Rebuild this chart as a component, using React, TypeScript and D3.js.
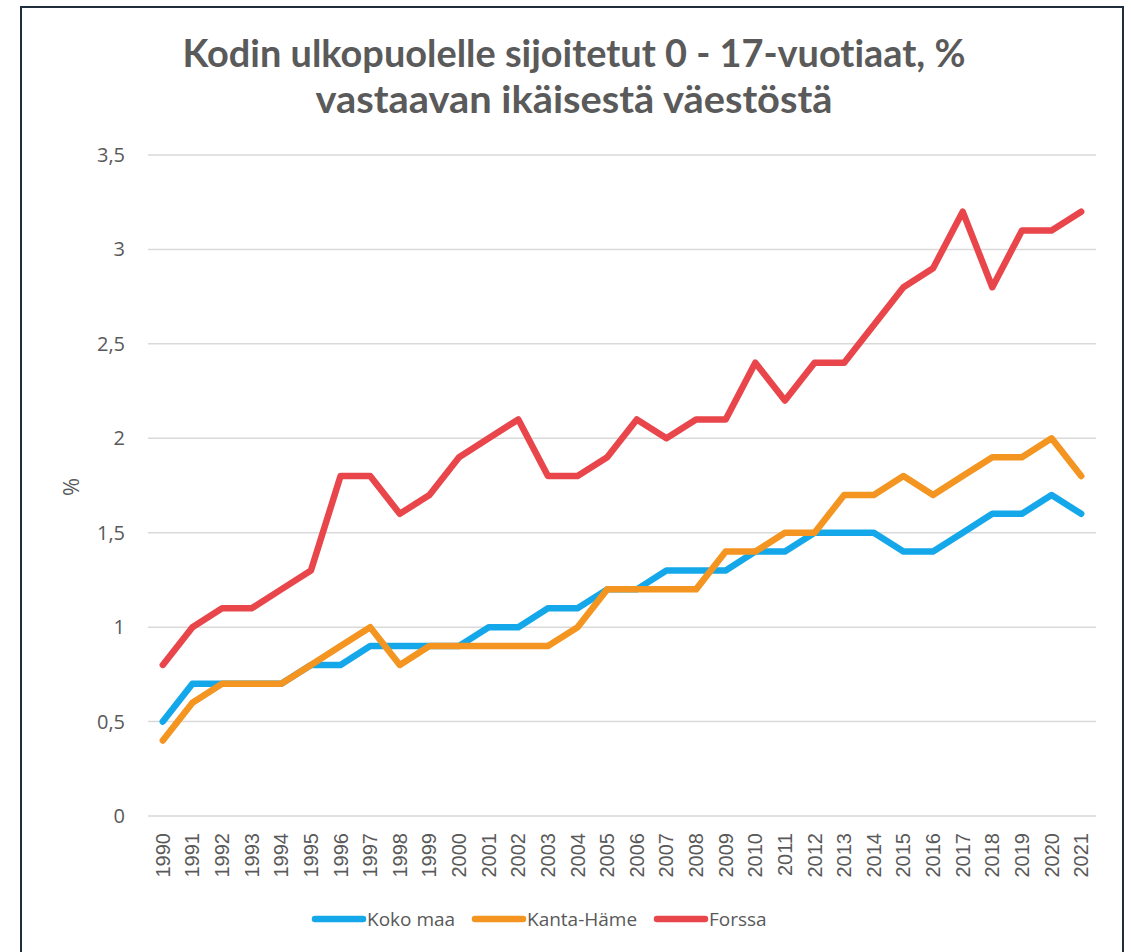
import React from "react";
import * as d3 from "d3";

const years = [
  "1990","1991","1992","1993","1994","1995","1996","1997","1998","1999","2000",
  "2001","2002","2003","2004","2005","2006","2007","2008","2009","2010","2011",
  "2012","2013","2014","2015","2016","2017","2018","2019","2020","2021",
];
const kokoMaa = [0.5,0.7,0.7,0.7,0.7,0.8,0.8,0.9,0.9,0.9,0.9,1.0,1.0,1.1,1.1,1.2,1.2,1.3,1.3,1.3,1.4,1.4,1.5,1.5,1.5,1.4,1.4,1.5,1.6,1.6,1.7,1.6];
const kantaHame = [0.4,0.6,0.7,0.7,0.7,0.8,0.9,1.0,0.8,0.9,0.9,0.9,0.9,0.9,1.0,1.2,1.2,1.2,1.2,1.4,1.4,1.5,1.5,1.7,1.7,1.8,1.7,1.8,1.9,1.9,2.0,1.8];
const forssa = [0.8,1.0,1.1,1.1,1.2,1.3,1.8,1.8,1.6,1.7,1.9,2.0,2.1,1.8,1.8,1.9,2.1,2.0,2.1,2.1,2.4,2.2,2.4,2.4,2.6,2.8,2.9,3.2,2.8,3.1,3.1,3.2];
const yTicks = [0, 0.5, 1, 1.5, 2, 2.5, 3, 3.5];
const seriesNames = ["Koko maa", "Kanta-Häme", "Forssa"];
const seriesColors = ["#14a8ea", "#f39520", "#e9464b"];
const titleLines = ["Kodin ulkopuolelle sijoitetut 0 - 17-vuotiaat, %", "vastaavan ikäisestä väestöstä"];

export default function App() {
  const W = 1131, H = 952;
  const left = 148, right = 1096, top = 155, bottom = 816;
  const x = d3.scaleBand<string>().domain(years).range([left, right]);
  const y = d3.scaleLinear().domain([0, 3.5]).range([bottom, top]);
  const cx = (yr: string) => (x(yr) as number) + x.bandwidth() / 2;
  const line = d3.line<number>().x((_, i) => cx(years[i])).y((d) => y(d));
  const data = [kokoMaa, kantaHame, forssa];
  const fmt = (v: number) => String(v).replace(".", ",");
  const legendX = [315, 475, 657];
  const titleWidths = [783, 517];
  return (
    <svg width={W} height={H} style={{ position: "absolute", left: 0, top: 0, background: "#fff" }}>
      <rect x={21} y={7} width={1102} height={960} fill="#fff" stroke="#1f2d3d" strokeWidth={2} />
      {titleLines.map((t, i) => (
        <text key={i} x={574} y={67 + i * 46} textAnchor="middle" fontFamily="Lato, 'Open Sans', sans-serif"
          fontWeight={700} fontSize={38} fill="#5a5a5a" textLength={titleWidths[i]} lengthAdjust="spacingAndGlyphs"
          style={{ fontVariantLigatures: "none" }}>{t}</text>
      ))}
      {yTicks.map((t) => (
        <g key={t}>
          <line x1={left} x2={right} y1={y(t)} y2={y(t)} stroke="#d9d9d9" strokeWidth={1.5} />
          <text x={125} y={y(t) + 7} textAnchor="end" fontFamily="'Open Sans', sans-serif" fontSize={20} fill="#595959">{fmt(t)}</text>
        </g>
      ))}
      <text transform={`translate(79,487) rotate(-90)`} textAnchor="middle" fontFamily="'Open Sans', sans-serif" fontSize={22} fill="#595959">%</text>
      {years.map((yr) => (
        <text key={yr} transform={`translate(${cx(yr) + 7},833) rotate(-90)`} textAnchor="end"
          fontFamily="'Liberation Sans', Arial, sans-serif" fontSize={20} fill="#595959">{yr}</text>
      ))}
      {data.map((s, i) => (
        <path key={i} d={line(s) || ""} fill="none" stroke={seriesColors[i]} strokeWidth={6.5}
          strokeLinejoin="round" strokeLinecap="round" />
      ))}
      {seriesNames.map((n, i) => (
        <g key={n}>
          <line x1={legendX[i]} x2={legendX[i] + 48} y1={919} y2={919} stroke={seriesColors[i]} strokeWidth={6.5} strokeLinecap="round" />
          <text x={legendX[i] + 52} y={926} fontFamily="'Open Sans', sans-serif" fontSize={19} fill="#595959">{n}</text>
        </g>
      ))}
    </svg>
  );
}
